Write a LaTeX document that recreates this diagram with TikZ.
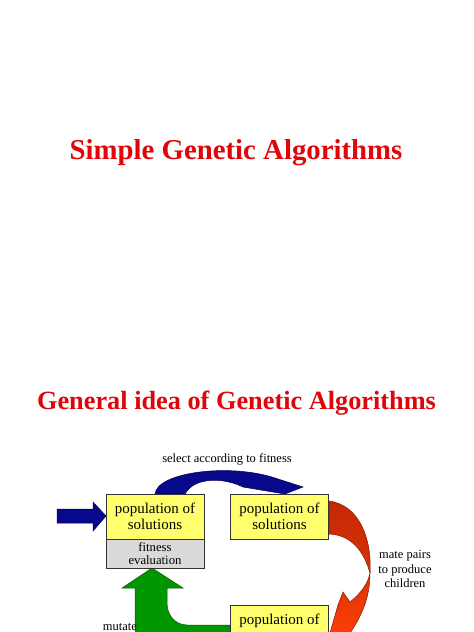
\documentclass[tikz,border=0pt]{standalone}
\usepackage{fontspec}
\setmainfont{Liberation Serif}
\definecolor{titlered}{RGB}{225,5,10}
\definecolor{boxyellow}{RGB}{255,255,110}
\definecolor{boxgray}{RGB}{218,218,218}
\definecolor{navy}{RGB}{8,8,140}
\definecolor{navyline}{RGB}{0,0,80}
\definecolor{darkred}{RGB}{195,40,5}
\definecolor{midred}{RGB}{220,50,5}
\definecolor{brightred}{RGB}{255,65,5}
\definecolor{arrowgreen}{RGB}{0,150,0}
\definecolor{greenline}{RGB}{0,90,0}
\begin{document}
\begin{tikzpicture}[x=1pt,y=-1pt,
  titletext/.style={text=titlered, font=\bfseries\fontsize{28.8}{32}\selectfont, inner sep=0pt},
  ybox/.style={draw=black!80, line width=0.7pt, fill=boxyellow, minimum width=98pt, minimum height=45pt, inner sep=0pt, align=center, font=\fontsize{15}{16.5}\selectfont},
  gbox/.style={draw=black!80, line width=0.7pt, fill=boxgray, minimum width=98pt, minimum height=29pt, inner sep=0pt, align=center, font=\fontsize{12.7}{13.5}\selectfont},
  label/.style={font=\fontsize{12.5}{14.5}\selectfont, inner sep=0pt, align=center},
  bluearrow/.style={fill=navy, draw=navyline, line width=0.5pt},
  greenarrow/.style={fill=arrowgreen, draw=greenline, line width=0.5pt},
  redarrow/.style={draw=darkred!70!black, line width=0.5pt}
]
\useasboundingbox (0,0) rectangle (474,632);
\fill[white] (0,0) rectangle (474,632);

% titles
\node[titletext, anchor=base] (t1) at (236,159) {Simple Genetic Algorithms};
\node[titletext, anchor=base, font=\bfseries\fontsize{26.3}{30}\selectfont] (t2) at (236.5,409) {General idea of Genetic Algorithms};

% input arrow
\path[bluearrow] (57,509) -- (93,509) -- (93,502) -- (106,516) -- (93,531) -- (93,523) -- (57,523) -- cycle;

% select arrow
\path[bluearrow] (155,494) .. controls (157,472) and (230,463) .. (275,478) -- (303,487) -- (285,494) -- (243,487) .. controls (225,478) and (195,476) .. (185,494) -- cycle;

% mate arrow (red)
\shade[redarrow, top color=darkred, bottom color=midred] (329,501) .. controls (360,505) and (372,540) .. (370,573) .. controls (364,552) and (352,535) .. (329,534) -- cycle;
\shade[redarrow, top color=midred, bottom color=brightred] (370,573) .. controls (370,600) and (360,620) .. (345,640) -- (328,640) -- (338,605) -- (343,592) -- (350,602) .. controls (360,594) and (368,584) .. (370,573) -- cycle;

% mutate arrow (green)
\path[greenarrow] (230,625) -- (187,625) .. controls (175,625) and (167,615) .. (167,603) -- (167,588) -- (183,588) -- (152,568) -- (122,588) -- (135,588) -- (135,625) .. controls (135,650) and (150,660) .. (175,660) -- (230,660) -- cycle;

% boxes
\node[ybox] (b1) at (155,516.5) {population of\\solutions};
\node[gbox] (fe) at (155,553.5) {fitness\\evaluation};
\node[ybox] (b2) at (279.5,516.5) {population of\\solutions};
\node[ybox] (b3) at (279.5,627.5) {};
\node[font=\fontsize{15}{16.5}\selectfont, inner sep=0pt, anchor=base] (b3t) at (279.5,624) {population of};

% labels
\node[label, anchor=base] (sel) at (227,462) {select according to fitness};
\node[label] (mate) at (405,569) {mate pairs\\to produce\\children};
\node[label, anchor=base] (mut) at (120,630.5) {mutate};
\end{tikzpicture}
\end{document}
